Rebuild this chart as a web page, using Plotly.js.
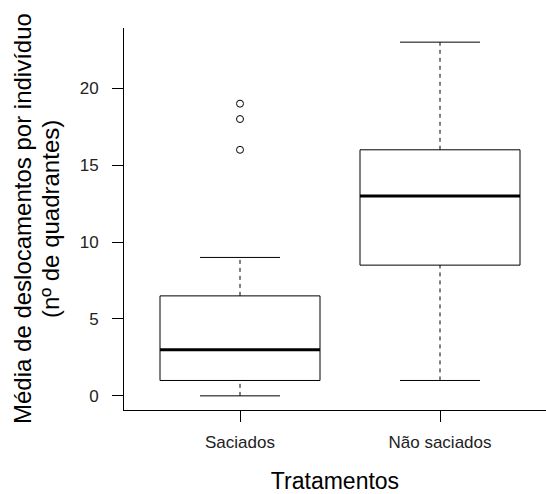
<!DOCTYPE html>
<html>
<head>
<meta charset="utf-8">
<script src="https://cdn.plot.ly/plotly-3.0.1.min.js"></script>
<style>html,body{margin:0;padding:0;background:#fff;overflow:hidden}</style>
</head>
<body>
<div id="chart" style="width:546px;height:494px"></div>
<script>
// Data
const categories = ["Saciados", "Não saciados"];
const lowerWhisker = [0, 1];
const q1 = [1, 8.5];
const median = [3, 13];
const q3 = [6.5, 16];
const upperWhisker = [9, 23];
const outliers = [[16, 18, 19], []];
const yTicks = [0, 5, 10, 15, 20];

const BOX_HALF = 0.4, CAP_HALF = 0.2;
const FONT = "Liberation Sans, Arial, sans-serif";
const traces = [];
categories.forEach((c, i) => {
  const x = i + 1;
  // box
  traces.push({type: "scatter", mode: "lines", hoverinfo: "skip", showlegend: false,
    x: [x - BOX_HALF, x + BOX_HALF, x + BOX_HALF, x - BOX_HALF, x - BOX_HALF],
    y: [q1[i], q1[i], q3[i], q3[i], q1[i]],
    fill: "toself", fillcolor: "#ffffff", line: {color: "#000", width: 1}});
  // median
  traces.push({type: "scatter", mode: "lines", hoverinfo: "skip", showlegend: false,
    x: [x - BOX_HALF, x + BOX_HALF], y: [median[i], median[i]],
    line: {color: "#000", width: 3}});
  // whiskers (dashed)
  traces.push({type: "scatter", mode: "lines", hoverinfo: "skip", showlegend: false,
    x: [x, x, null, x, x], y: [q3[i], upperWhisker[i], null, lowerWhisker[i], q1[i]],
    line: {color: "#000", width: 1, dash: "4px,4px"}});
  // caps
  traces.push({type: "scatter", mode: "lines", hoverinfo: "skip", showlegend: false,
    x: [x - CAP_HALF, x + CAP_HALF, null, x - CAP_HALF, x + CAP_HALF],
    y: [upperWhisker[i], upperWhisker[i], null, lowerWhisker[i], lowerWhisker[i]],
    line: {color: "#000", width: 1}});
  // outliers
  if (outliers[i].length) {
    traces.push({type: "scatter", mode: "markers", hoverinfo: "skip", showlegend: false,
      x: outliers[i].map(() => x), y: outliers[i],
      marker: {symbol: "circle-open", size: 7, color: "#000", line: {width: 1}}});
  }
});

const layout = {
  width: 546, height: 494,
  margin: {l: 124, r: 0, t: 28, b: 84, pad: 0},
  paper_bgcolor: "#fff", plot_bgcolor: "#fff",
  showlegend: false,
  font: {family: FONT, color: "#000"},
  xaxis: {
    range: [0.42, 2.53], tickmode: "array", tickvals: categories.map((c, i) => i + 1), ticktext: categories,
    showgrid: false, zeroline: false, showline: true, linecolor: "#000", linewidth: 1,
    ticks: "outside", ticklen: 11, tickcolor: "#000", tickwidth: 1,
    tickfont: {size: 17, color: "#222", family: FONT}, ticklabelstandoff: 6,
    title: {text: "Tratamentos", font: {size: 23, color: "#000", family: FONT}, standoff: 26}
  },
  yaxis: {
    range: [-0.92, 23.92], tickmode: "array", tickvals: yTicks, ticktext: yTicks.map(String),
    showgrid: false, zeroline: false, showline: true, linecolor: "#000", linewidth: 1,
    ticks: "outside", ticklen: 11, tickcolor: "#000", tickwidth: 1,
    tickfont: {size: 17, color: "#222", family: FONT}, ticklabelstandoff: 10
  },
  annotations: [
    {text: "Média de deslocamentos por indivíduo", textangle: -90, showarrow: false,
     xref: "paper", yref: "paper", x: -124/422 + 22/422, y: 0.5, xanchor: "center", yanchor: "middle",
     font: {size: 24, color: "#000", family: FONT}},
    {text: "(nº de quadrantes)", textangle: -90, showarrow: false,
     xref: "paper", yref: "paper", x: -124/422 + 50/422, y: 0.5, xanchor: "center", yanchor: "middle",
     font: {size: 24, color: "#000", family: FONT}}
  ]
};

Plotly.newPlot("chart", traces, layout, {staticPlot: true, displayModeBar: false});
</script>
</body>
</html>
